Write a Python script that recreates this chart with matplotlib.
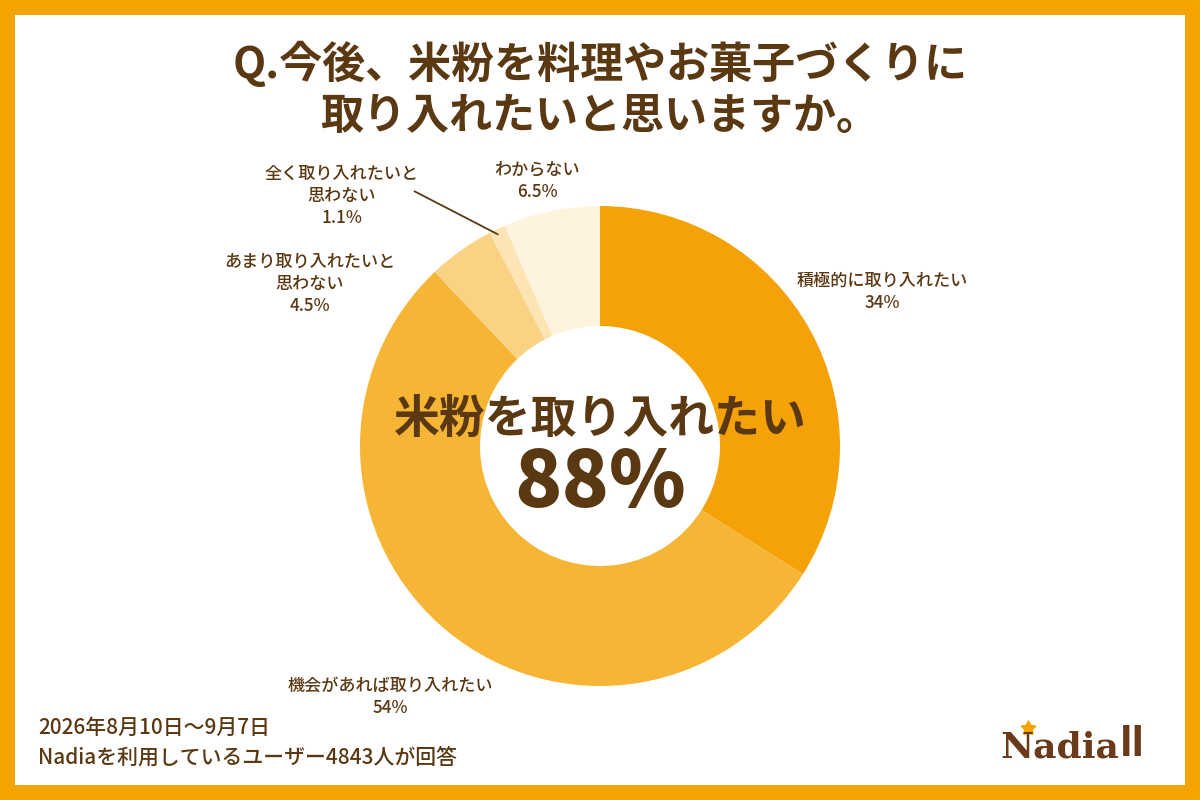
import numpy as np
import matplotlib.pyplot as plt
from matplotlib.patches import Rectangle

plt.rcParams['font.family'] = ['Noto Sans CJK JP', 'DejaVu Sans']

labels = ["積極的に取り入れたい", "機会があれば取り入れたい", "あまり取り入れたいと\n思わない",
          "全く取り入れたいと\n思わない", "わからない"]
values = [34, 54, 4.5, 1.1, 6.5]
pct_text = ["34%", "54%", "4.5%", "1.1%", "6.5%"]
colors = ["#F4A208", "#F7B536", "#FAD283", "#FCE4B5", "#FEF3DD"]

title = "Q.今後、米粉を料理やお菓子づくりに\n取り入れたいと思いますか。"
center_label = "米粉を取り入れたい"
center_value = "88%"
footer = ["2026年8月10日～9月7日", "Nadiaを利用しているユーザー4843人が回答"]

brown = "#5A3812"
orange = "#F5A300"

fig = plt.figure(figsize=(12, 8), dpi=100)
fig.patch.set_facecolor(orange)

# white panel inside orange frame
bg = fig.add_axes([0, 0, 1, 1], zorder=0)
bg.set_xlim(0, 1200)
bg.set_ylim(800, 0)
bg.axis("off")
bg.add_patch(Rectangle((15, 15), 1170, 770, facecolor="white", edgecolor="none"))

# donut, centre (600, 446) px, radius 240 px
ax = fig.add_axes([360 / 1200, 114 / 800, 480 / 1200, 480 / 800], zorder=1)
wedges, _ = ax.pie(values, colors=colors, startangle=90, counterclock=False,
                   radius=1, wedgeprops=dict(width=0.5, edgecolor="none"))
ax.set_xlim(-1, 1)
ax.set_ylim(-1, 1)
ax.set_aspect("equal")
ax.axis("off")

# overlay for text, pixel coordinates
ov = fig.add_axes([0, 0, 1, 1], zorder=2)
ov.set_xlim(0, 1200)
ov.set_ylim(800, 0)
ov.axis("off")
ov.patch.set_alpha(0)

ov.text(600, 89, title, ha="center", va="center", fontsize=31, fontweight="bold",
        color=brown, linespacing=1.2)

ov.text(600, 420, center_label, ha="center", va="center", fontsize=33,
        fontweight="bold", color=brown)
ov.text(600, 484, center_value, ha="center", va="center", fontsize=56,
        fontweight="heavy", color=brown)

label_pos = [(882, 292), (390, 697), (310, 284), (342, 196), (537, 181)]
for lab, pct, (x, y) in zip(labels, pct_text, label_pos):
    ov.text(x, y, lab + "\n" + pct, ha="center", va="center", fontsize=12.3,
            fontweight="medium", color=brown, linespacing=1.3)

# leader line for the 1.1% slice
w = wedges[3]
mid = np.deg2rad((w.theta1 + w.theta2) / 2)
ax.annotate("", xy=(0.97 * np.cos(mid), 0.97 * np.sin(mid)), xycoords="data",
            xytext=(412 / 1200, 1 - 190 / 800), textcoords="figure fraction",
            arrowprops=dict(arrowstyle="-", color=brown, lw=1.3))

ov.text(38, 728, footer[0], ha="left", va="center", fontsize=15,
        fontweight="medium", color=brown)
ov.text(38, 758, footer[1], ha="left", va="center", fontsize=15,
        fontweight="medium", color=brown)

# logo
ov.text(1000, 748, "Nadia", ha="left", va="center", fontsize=26, fontweight="bold",
        family="DejaVu Serif", color="#6B3A1A")
ov.plot([1028], [728], marker=(5, 1, 0), markersize=11, color=orange)
ov.text(1120, 746, "ꟾꟾ", ha="left", va="center", fontsize=24, fontweight="bold",
        color="#6B3A1A")

fig.savefig("out.png", dpi=100, facecolor=fig.get_facecolor())
